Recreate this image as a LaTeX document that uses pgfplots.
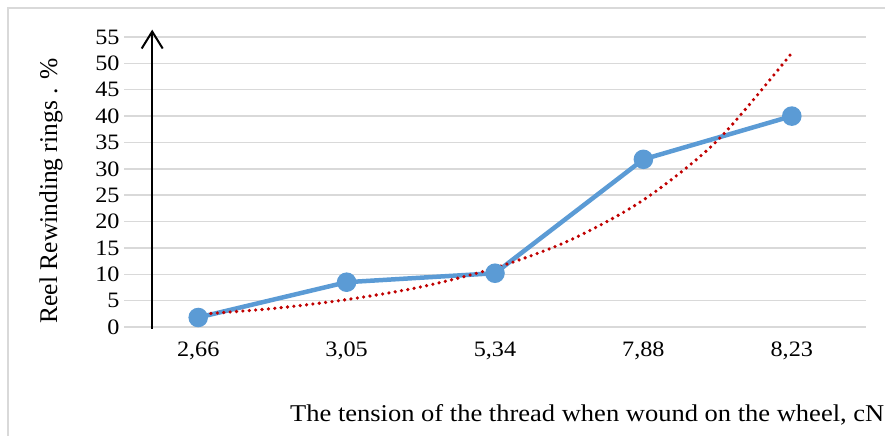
\documentclass[border=0pt]{standalone}
\usepackage{fontspec}
\setmainfont{Liberation Serif}[FakeStretch=1.1]
\newfontfamily\yfont{Liberation Serif}
\usepackage{pgfplots}
\pgfplotsset{compat=1.18}
\usetikzlibrary{arrows.meta}
\definecolor{lineblue}{RGB}{91,155,213}
\definecolor{trendred}{RGB}{192,0,0}
\definecolor{gridgray}{RGB}{217,217,217}
\begin{document}
\begin{tikzpicture}
\useasboundingbox (0,0) rectangle (885bp,-436bp);
\draw[gridgray, line width=1.2bp] (8bp,-445bp) -- (8bp,-8bp) -- (895bp,-8bp);
\begin{axis}[
  at={(124bp,-327bp)}, anchor=south west,
  width=742bp, height=290bp, scale only axis,
  xmin=-0.5, xmax=4.5, ymin=0, ymax=55,
  xtick={0,1,2,3,4},
  xticklabels={{2,66},{3,05},{5,34},{7,88},{8,23}},
  ytick={0,5,...,55},
  ymajorgrids, grid style={gridgray, line width=1.5bp},
  axis line style={draw=none},
  major tick length=0pt,
  /pgf/number format/assume math mode=true,
  tick label style={font=\fontsize{22bp}{24bp}\selectfont},
  yticklabel style={xshift=-1bp},
  xticklabel style={yshift=-11bp},
  clip=false,
]
\addplot[color=lineblue, line width=4.5bp, mark=*, mark size=7.5bp, mark options={solid, draw=none, fill=lineblue}]
  coordinates {(0,1.8) (1,8.5) (2,10.2) (3,31.8) (4,40.0)};
\addplot[color=trendred, smooth, line width=3.6bp, line cap=round, dash pattern=on 0bp off 6.4bp]
  coordinates {(0,2.4) (0.5,3.5) (1,5.2) (1.5,7.6) (2,11.2) (2.5,16.4) (3,24.1) (3.5,35.4) (4,52.0)};
\draw[black, line width=2bp, -{Straight Barb[length=17bp,width=21bp,line width=2bp]}]
  (axis cs:-0.31,-0.3) -- (axis cs:-0.31,56.4);
\end{axis}
\node[rotate=90, anchor=base, inner sep=0pt, font=\yfont\fontsize{25.5bp}{27bp}\selectfont] at (57bp,-191bp) {Reel Rewinding rings . \%};
\node[anchor=base west, inner sep=0pt, font=\fontsize{24.1bp}{26bp}\selectfont] at (290bp,-421.5bp) {The tension of the thread when wound on the wheel, cN};
\end{tikzpicture}
\end{document}
